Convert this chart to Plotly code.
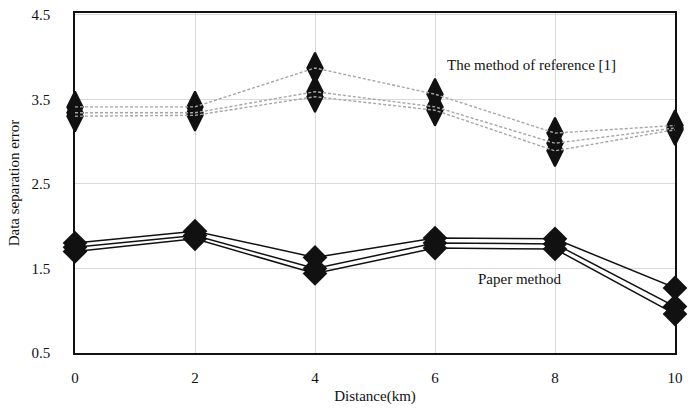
import plotly.graph_objects as go

distance = [0, 2, 4, 6, 8, 10]

# The method of reference [1] (three runs)
ref_a = [3.41, 3.41, 3.87, 3.56, 3.10, 3.19]
ref_b = [3.34, 3.34, 3.59, 3.41, 2.98, 3.16]
ref_c = [3.30, 3.31, 3.53, 3.37, 2.89, 3.14]

# Paper method (three runs)
pap_a = [1.80, 1.94, 1.63, 1.86, 1.85, 1.27]
pap_b = [1.75, 1.89, 1.50, 1.80, 1.79, 1.05]
pap_c = [1.70, 1.85, 1.44, 1.74, 1.73, 0.96]

y_ticks = [0.5, 1.5, 2.5, 3.5, 4.5]
x_ticks = [0, 2, 4, 6, 8, 10]

FONT = "'Times New Roman', 'Liberation Serif', 'DejaVu Serif', serif"

fig = go.Figure()

# paper method: lines + square diamonds
for s in (pap_a, pap_b, pap_c):
    fig.add_trace(go.Scatter(
        x=distance, y=s, mode="lines+markers",
        line=dict(color="#111111", width=1.5),
        marker=dict(symbol="diamond", size=19, color="#111111"),
        cliponaxis=False, showlegend=False, hoverinfo="skip"))

# reference method: markers first, then dotted lines on top
for s in (ref_a, ref_b, ref_c):
    fig.add_trace(go.Scatter(
        x=distance, y=s, mode="markers",
        marker=dict(symbol="diamond-tall", size=22, color="#111111",
                    line=dict(color="#111111", width=2)),
        cliponaxis=False, showlegend=False, hoverinfo="skip"))
for s in (ref_a, ref_b, ref_c):
    fig.add_trace(go.Scatter(
        x=distance, y=s, mode="lines",
        line=dict(color="#a6a6a6", width=1.4, dash="3px,2px"),
        cliponaxis=False, showlegend=False, hoverinfo="skip"))

fig.add_annotation(x=7.6, y=3.9, xref="x", yref="y",
                   text="The method of reference [1]", showarrow=False,
                   font=dict(family=FONT, size=15, color="#111111"))
fig.add_annotation(x=7.4, y=1.38, xref="x", yref="y",
                   text="Paper method", showarrow=False,
                   font=dict(family=FONT, size=15, color="#111111"))

fig.update_layout(
    width=690, height=409,
    margin=dict(l=75, r=8, t=7, b=56),
    paper_bgcolor="white", plot_bgcolor="white",
    font=dict(family=FONT, size=15, color="#111111"),
    xaxis=dict(range=[0, 10], tickvals=x_ticks, ticktext=[str(v) for v in x_ticks],
               showgrid=True, gridcolor="#d9d9d9", gridwidth=1.2,
               showline=True, linecolor="#111111", linewidth=1.5, mirror=True,
               zeroline=False, ticks="outside", ticklen=10, tickcolor="rgba(0,0,0,0)",
               tickfont=dict(family=FONT, size=15),
               title=dict(text="Distance(km)", font=dict(family=FONT, size=15), standoff=6)),
    yaxis=dict(range=[0.5, 4.52], tickvals=y_ticks, ticktext=[str(v) for v in y_ticks],
               showgrid=True, gridcolor="#d9d9d9", gridwidth=1.2,
               showline=True, linecolor="#111111", linewidth=1.5, mirror=True,
               zeroline=False, ticks="outside", ticklen=20, tickcolor="rgba(0,0,0,0)",
               tickfont=dict(family=FONT, size=15),
               title=dict(text="Data separation error", font=dict(family=FONT, size=15), standoff=8)),
)

fig.write_html("out.html")
